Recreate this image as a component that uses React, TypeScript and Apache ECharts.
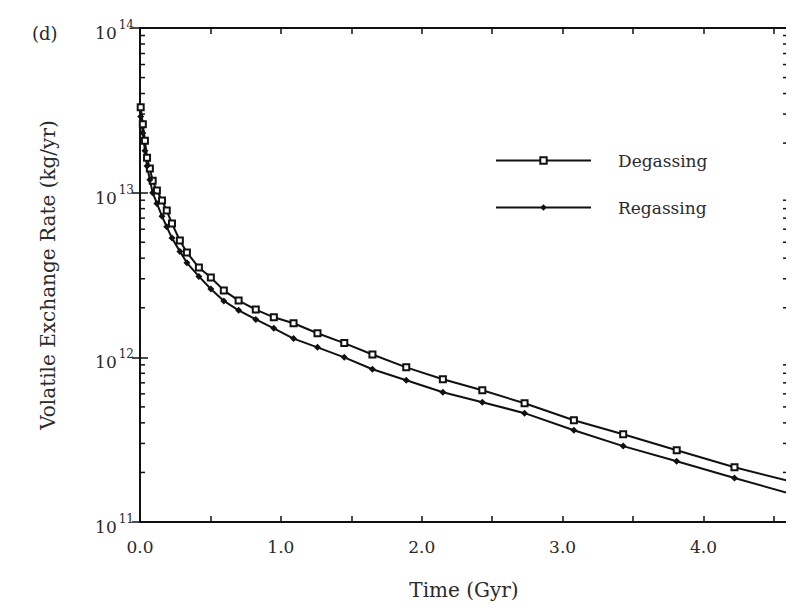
import React, { useEffect, useRef } from "react";
import * as echarts from "echarts";

// Time (Gyr) sample points shared by both curves
const times = [
  0.005, 0.02, 0.035, 0.05, 0.07, 0.09, 0.12, 0.156, 0.19, 0.227, 0.283, 0.333,
  0.418, 0.503, 0.595, 0.7, 0.822, 0.95, 1.09, 1.26, 1.45, 1.65, 1.89, 2.15,
  2.43, 2.73, 3.08, 3.43, 3.81, 4.22, 4.6,
];

// Volatile exchange rates (kg/yr)
const degassing = [
  3.3e13, 2.6e13, 2.07e13, 1.63e13, 1.4e13, 1.18e13, 1.03e13, 8.95e12, 7.78e12,
  6.49e12, 5.12e12, 4.33e12, 3.51e12, 3.05e12, 2.55e12, 2.21e12, 1.95e12,
  1.75e12, 1.61e12, 1.4e12, 1.22e12, 1.04e12, 8.69e11, 7.36e11, 6.31e11,
  5.26e11, 4.15e11, 3.41e11, 2.73e11, 2.15e11, 1.78e11,
];
const regassing = [
  2.9e13, 2.3e13, 1.8e13, 1.45e13, 1.2e13, 1.0e13, 8.6e12, 7.2e12, 6.2e12,
  5.3e12, 4.4e12, 3.75e12, 3.1e12, 2.6e12, 2.2e12, 1.93e12, 1.7e12, 1.5e12,
  1.3e12, 1.15e12, 1.0e12, 8.46e11, 7.26e11, 6.14e11, 5.34e11, 4.58e11,
  3.61e11, 2.89e11, 2.34e11, 1.85e11, 1.5e11,
];

const xTickLabels = ["0.0", "1.0", "2.0", "3.0", "4.0"];
const yMinorTicks = [
  2e11, 3e11, 4e11, 5e11, 6e11, 7e11, 8e11, 9e11,
  2e12, 3e12, 4e12, 5e12, 6e12, 7e12, 8e12, 9e12,
  2e13, 3e13, 4e13, 5e13, 6e13, 7e13, 8e13, 9e13,
];

const X_MIN = 0;
const X_MAX = 4.6;
const FONT = "DejaVu Serif";
const INK = "#111";
const TEXT = "#2a2a2a";

function buildPoints(vals: number[]) {
  return vals.map((v, i) =>
    i === vals.length - 1
      ? { value: [times[i], v], symbol: "none" }
      : { value: [times[i], v] }
  );
}

export default function App() {
  const ref = useRef<HTMLDivElement>(null);

  useEffect(() => {
    if (!ref.current) return;
    const chart = echarts.init(ref.current, null, { renderer: "svg" });

    const xLabel = (v: number) => {
      const idx = xTickLabels.indexOf(v.toFixed(1));
      return Math.abs(v - Math.round(v)) < 1e-6 && idx >= 0 ? xTickLabels[idx] : "";
    };
    const yLabel = (v: number) => {
      const e = Math.round(Math.log10(v));
      return `{b|10}{s|${e}}`;
    };

    const commonX = {
      type: "value",
      min: X_MIN,
      max: X_MAX,
      interval: 0.5,
      splitLine: { show: false },
      axisLine: { show: true, onZero: false, lineStyle: { color: INK, width: 2 } },
      axisTick: { show: true, inside: true, length: 6, lineStyle: { color: INK, width: 1.5 } },
    };
    const commonY = {
      type: "log",
      logBase: 10,
      min: 1e11,
      max: 1e14,
      splitLine: { show: false },
      axisLine: { show: true, lineStyle: { color: INK, width: 2 } },
      axisTick: { show: true, inside: true, length: 8, lineStyle: { color: INK, width: 1.5 } },
    };

    chart.setOption({
      animation: false,
      backgroundColor: "#ffffff",
      grid: { left: 140, right: 6, top: 28, bottom: 91 },
      graphic: [
        {
          type: "text",
          left: 32,
          top: 24,
          style: { text: "(d)", fontFamily: FONT, fontSize: 18, fill: TEXT },
        },
      ],
      legend: {
        orient: "vertical",
        left: 490,
        top: 147,
        itemWidth: 95,
        itemHeight: 8,
        itemGap: 30,
        data: ["Degassing", "Regassing"],
        textStyle: { fontFamily: FONT, fontSize: 17, color: TEXT, padding: [0, 0, 0, 22] },
      },
      xAxis: [
        {
          ...commonX,
          position: "bottom",
          name: "Time (Gyr)",
          nameLocation: "middle",
          nameGap: 58,
          nameTextStyle: { fontFamily: FONT, fontSize: 20, color: TEXT },
          axisLabel: {
            formatter: xLabel,
            margin: 16,
            showMaxLabel: false,
            fontFamily: FONT,
            fontSize: 17,
            color: TEXT,
          },
        },
        {
          ...commonX,
          position: "top",
          axisLabel: { show: false },
        },
      ],
      yAxis: [
        {
          ...commonY,
          position: "left",
          name: "Volatile Exchange Rate (kg/yr)",
          nameLocation: "middle",
          nameGap: 82,
          nameRotate: 90,
          nameTextStyle: { fontFamily: FONT, fontSize: 20, color: TEXT },
          axisLabel: {
            formatter: yLabel,
            margin: 6,
            color: TEXT,
            rich: {
              b: { fontFamily: FONT, fontSize: 17, color: TEXT, padding: [10, 0, 0, 0] },
              s: { fontFamily: FONT, fontSize: 12, color: TEXT, padding: [0, 0, 6, 2] },
            },
          },
        },
        {
          ...commonY,
          position: "right",
          axisLabel: { show: false },
        },
      ],
      series: [
        {
          name: "Degassing",
          type: "line",
          data: buildPoints(degassing),
          symbol: "emptyRect",
          symbolSize: 6,
          showAllSymbol: true,
          lineStyle: { color: INK, width: 2 },
          itemStyle: { color: INK, borderColor: INK, borderWidth: 1.5 },
          z: 3,
        },
        {
          name: "Regassing",
          type: "line",
          data: buildPoints(regassing),
          symbol: "diamond",
          symbolSize: 7,
          showAllSymbol: true,
          lineStyle: { color: INK, width: 2 },
          itemStyle: { color: INK },
          z: 3,
        },
        {
          name: "minorTicks",
          type: "custom",
          silent: true,
          xAxisIndex: 0,
          yAxisIndex: 0,
          data: yMinorTicks.map((v) => [X_MIN, v]),
          renderItem: (params: any, api: any) => {
            const v = api.value(1);
            const pL = api.coord([X_MIN, v]);
            const pR = api.coord([X_MAX, v]);
            const st = { stroke: INK, lineWidth: 1.5 };
            return {
              type: "group",
              children: [
                { type: "line", shape: { x1: pL[0], y1: pL[1], x2: pL[0] + 5, y2: pL[1] }, style: st },
                { type: "line", shape: { x1: pR[0] - 5, y1: pR[1], x2: pR[0], y2: pR[1] }, style: st },
              ],
            };
          },
          z: 2,
        },
      ],
    });

    return () => chart.dispose();
  }, []);

  return <div ref={ref} style={{ width: 794, height: 613, margin: -8 }} />;
}
